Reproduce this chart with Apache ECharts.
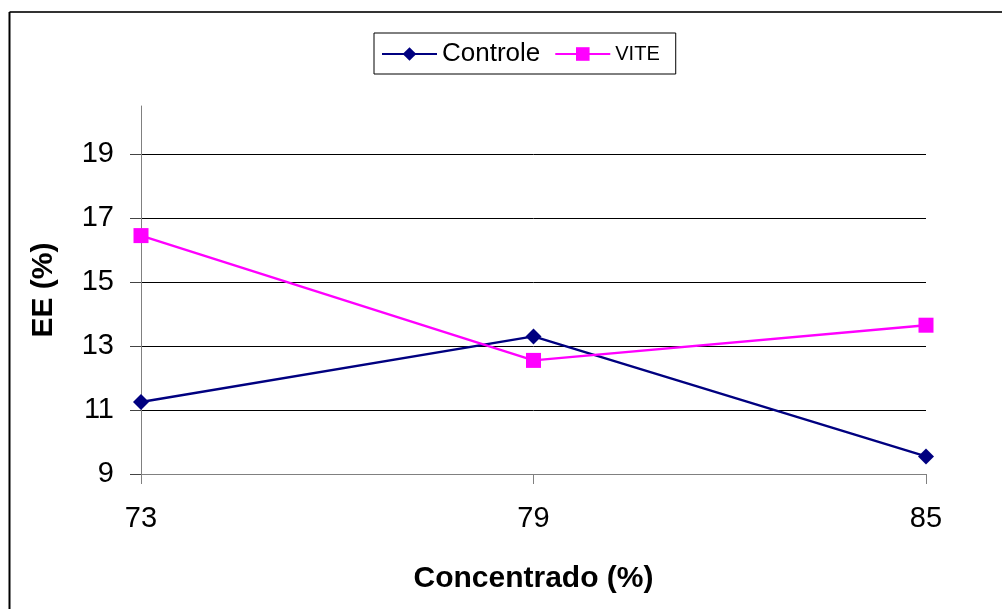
<!DOCTYPE html>
<html>
<head>
<meta charset="utf-8">
<script src="https://cdn.jsdelivr.net/npm/echarts@6/dist/echarts.min.js"></script>
<style>
  html, body { margin: 0; padding: 0; background: #fff; }
  #chart { width: 1002px; height: 609px; }
</style>
</head>
<body>
<div id="chart"></div>
<script>
// Concentrate level (%) on the x axis
const concentrado = [73, 79, 85];
// EE (%) per treatment
const controle = [11.25, 13.3, 9.55];
const vite = [16.45, 12.55, 13.65];
// value axis ticks
const yTicks = [9, 11, 13, 15, 17, 19];
const xTicks = [73, 79, 85];

const font = '"Liberation Sans", Arial, sans-serif';
const pair = (xs, ys) => xs.map((x, i) => [x, ys[i]]);

const chart = echarts.init(document.getElementById('chart'), null, { renderer: 'canvas' });

chart.setOption({
  backgroundColor: '#fff',
  animation: false,
  graphic: [
    { type: 'line', shape: { x1: 9.5, y1: 12, x2: 1002, y2: 12 }, style: { stroke: '#333', lineWidth: 2 } },
    { type: 'line', shape: { x1: 9.5, y1: 12, x2: 9.5, y2: 609 }, style: { stroke: '#000', lineWidth: 2 } }
  ],
  legend: {
    top: 33,
    left: 374,
    padding: [8, 16, 7, 7],
    itemGap: 14,
    itemWidth: 55,
    itemHeight: 17,
    borderColor: '#000',
    borderWidth: 1,
    borderRadius: 0,
    data: ['Controle', 'VITE'],
    formatter: n => n === 'VITE' ? '{s|' + n + '}' : '{b|' + n + '}',
    textStyle: {
      color: '#000',
      fontFamily: font,
      rich: {
        b: { fontSize: 26, fontFamily: font, color: '#000' },
        s: { fontSize: 20, fontFamily: font, color: '#000' }
      }
    }
  },
  grid: { left: 141, right: 76, top: 106, bottom: 135, containLabel: false },
  xAxis: {
    type: 'value',
    min: 73,
    max: 85,
    interval: 6,
    name: 'Concentrado (%)',
    nameLocation: 'middle',
    nameGap: 90,
    nameTextStyle: { fontFamily: font, fontSize: 30, fontWeight: 'bold', color: '#000' },
    axisLine: { show: true, onZero: false, lineStyle: { color: '#808080', width: 1 } },
    axisTick: { show: true, inside: false, length: 10, lineStyle: { color: '#808080' } },
    axisLabel: { margin: 30, fontFamily: font, fontSize: 29, color: '#000',
                 customValues: xTicks },
    splitLine: { show: false }
  },
  yAxis: {
    type: 'value',
    min: 9,
    max: 20.5,
    interval: 2,
    name: 'EE (%)',
    nameLocation: 'middle',
    nameGap: 82,
    nameRotate: 90,
    nameTextStyle: { fontFamily: font, fontSize: 30, fontWeight: 'bold', color: '#000' },
    axisLine: { show: true, lineStyle: { color: '#808080', width: 1 } },
    axisTick: { show: true, length: 11, lineStyle: { color: '#444' }, customValues: yTicks },
    axisLabel: { margin: 27, fontFamily: font, fontSize: 29, color: '#000', customValues: yTicks },
    splitLine: { show: true, lineStyle: { color: ['#000', '#000', '#000', '#000', '#000', '#000', 'rgba(0,0,0,0)'], width: 1 } }
  },
  series: [
    {
      name: 'Controle',
      type: 'line',
      data: pair(concentrado, controle),
      symbol: 'diamond',
      symbolSize: 16,
      itemStyle: { color: '#000080' },
      lineStyle: { color: '#000080', width: 2.4 }
    },
    {
      name: 'VITE',
      type: 'line',
      data: pair(concentrado, vite),
      symbol: 'rect',
      symbolSize: 15,
      itemStyle: { color: '#FF00FF' },
      lineStyle: { color: '#FF00FF', width: 2.4 }
    }
  ]
});
</script>
</body>
</html>
